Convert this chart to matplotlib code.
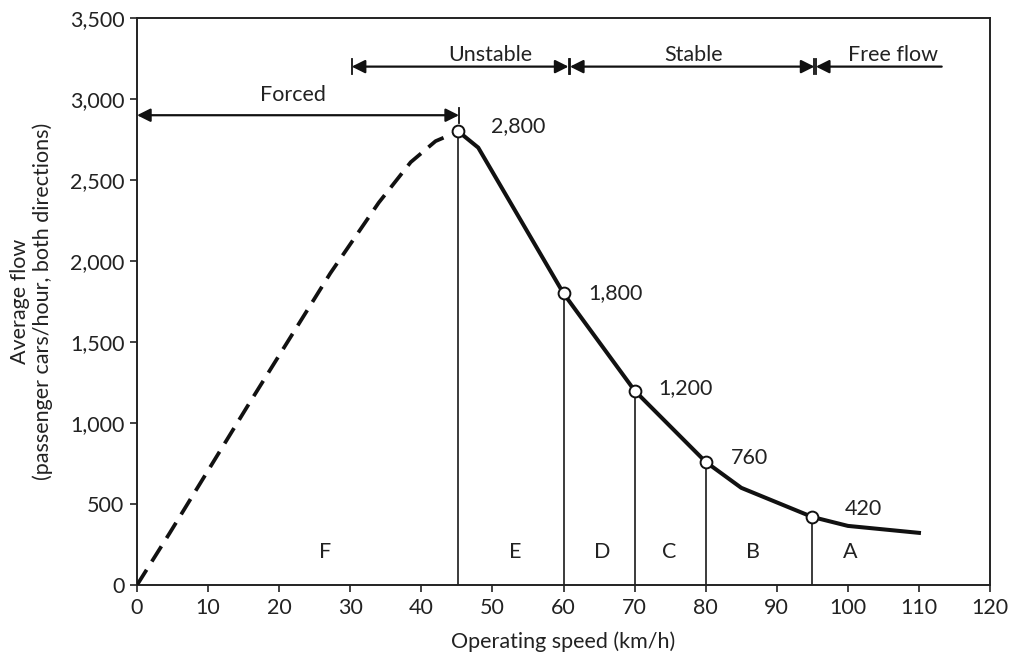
import matplotlib
matplotlib.use("Agg")
import matplotlib.pyplot as plt
from matplotlib.ticker import FuncFormatter

plt.rcParams['font.family'] = ['Lato', 'DejaVu Sans']

# Data
forced_speed = [0, 4.6, 15.5, 27.2, 34.0, 38.5, 42.0, 45.2]
forced_flow = [0, 321, 1101, 1925, 2360, 2610, 2740, 2800]
stable_speed = [45.2, 48, 60, 70, 80, 85, 90, 95, 100, 110]
stable_flow = [2800, 2700, 1800, 1200, 760, 600, 510, 420, 365, 322]
key_speed = [45.2, 60, 70, 80, 95]
key_flow = [2800, 1800, 1200, 760, 420]
key_labels = ["2,800", "1,800", "1,200", "760", "420"]
key_label_x = [49.8, 63.5, 73.4, 83.5, 99.6]
key_label_y = [2830, 1800, 1215, 785, 470]
los_letters = ["F", "E", "D", "C", "B", "A"]
los_x = [26.5, 53.2, 65.4, 74.9, 86.6, 100.3]
los_y = 206
regions = ["Forced", "Unstable", "Stable", "Free flow"]
region_start = [0, 30.2, 60.9, 95.5]
region_end = [45.3, 60.7, 95.3, 113.2]
region_y = [2900, 3200, 3200, 3200]
region_text_x = [22, 49.7, 78.3, 106.3]
region_text_y = [2985, 3235, 3235, 3235]

fig = plt.figure(figsize=(10.12, 6.6), dpi=100)
ax = fig.add_axes([0.1354, 0.1136, 0.9783 - 0.1354, 0.9727 - 0.1136])

fs = 15.5
ink = '#1a1a1a'
# vertical drop lines
for xs, ys in zip(key_speed, key_flow):
    ax.plot([xs, xs], [0, ys], color=ink, lw=1.2, zorder=2)

ax.plot(forced_speed, forced_flow, color='#111111', lw=2.7, dashes=(4.8, 2.6),
        solid_capstyle='butt', zorder=3)
ax.plot(stable_speed, stable_flow, color='#111111', lw=2.9, solid_joinstyle='round', zorder=3)
ax.plot(key_speed, key_flow, 'o', ms=8.5, mfc='white', mec='#111111', mew=1.4, zorder=4)

for lx, ly, t in zip(key_label_x, key_label_y, key_labels):
    ax.text(lx, ly, t, ha='left', va='center', fontsize=fs, color='#222222')

for lx, t in zip(los_x, los_letters):
    ax.text(lx, los_y, t, ha='center', va='center', fontsize=fs, color='#222222')

# region arrows
for i, (s, e, y) in enumerate(zip(region_start, region_end, region_y)):
    right_head = i < 3
    style = '<|-|>' if right_head else '-|>'
    ax.annotate('', xy=(s, y), xytext=(e, y),
                arrowprops=dict(arrowstyle=style, color='#111111', lw=1.6,
                                mutation_scale=20, shrinkA=0, shrinkB=0),
                annotation_clip=False, zorder=5)
    bars = []
    if i > 0:
        bars.append(s)
    if right_head:
        bars.append(e)
    for bx in bars:
        ax.plot([bx, bx], [y - 45, y + 45], color='#111111', lw=1.3, zorder=5)

for tx, ty, t in zip(region_text_x, region_text_y, regions):
    ax.text(tx, ty, t, ha='center', va='baseline', fontsize=fs, color='#222222')

ax.set_xlim(0, 120)
ax.set_ylim(0, 3500)
ax.set_xticks(range(0, 121, 10))
ax.set_yticks(range(0, 3501, 500))
ax.yaxis.set_major_formatter(FuncFormatter(lambda v, p: f"{int(v):,}"))
ax.tick_params(direction='out', length=5, width=1.2, labelsize=fs, colors='#222222', pad=4)
for sp in ax.spines.values():
    sp.set_linewidth(1.4)
    sp.set_color('#222222')

ax.set_xlabel("Operating speed (km/h)", fontsize=fs, color='#222222', labelpad=10)
ax.set_ylabel("Average flow\n(passenger cars/hour, both directions)", fontsize=fs,
              color='#222222', labelpad=12, linespacing=1.15)

fig.savefig("out.png", dpi=100)
